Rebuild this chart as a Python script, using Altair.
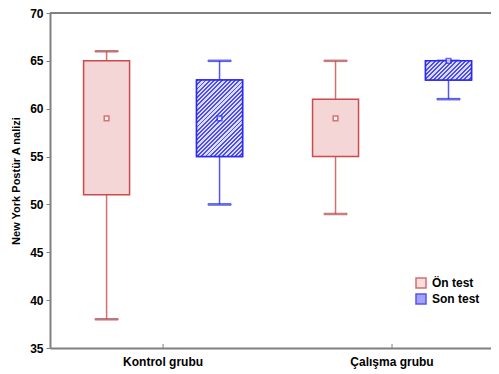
import altair as alt
import pandas as pd

groups = ["Kontrol grubu", "Kontrol grubu", "Çalışma grubu", "Çalışma grubu"]
tests = ["Ön test", "Son test", "Ön test", "Son test"]
mins = [38, 50, 49, 61]
q1s = [51, 55, 55, 63]
q3s = [65, 63, 61, 65]
maxs = [66, 65, 65, 65]
means = [59, 59, 59, 65]

group_order = ["Kontrol grubu", "Çalışma grubu"]
test_order = ["Ön test", "Son test"]
y_ticks = [35, 40, 45, 50, 55, 60, 65, 70]

df = pd.DataFrame({"Grup": groups, "Test": tests, "min": mins, "q1": q1s,
                   "q3": q3s, "max": maxs, "mean": means})

FONT = "Liberation Sans"
RED = "#cc4a4a"
BLUE = "#2a2af0"
PINK = "#f5d6d6"
LBLUE = "#8c8cf6"

W, H = 441, 335
Y0, Y1 = 35, 70
BOXW = 46
xscale = alt.Scale(domain=group_order, paddingInner=0.0655, paddingOuter=0.0133, align=1,
                   range=[0, 449])
x = alt.X("Grup:N", sort=group_order, scale=xscale,
          axis=alt.Axis(title=None, ticks=False, labelPadding=8, labelAngle=0,
                        labelFont=FONT, labelFontWeight="bold", labelFontSize=12,
                        labelColor="black", domainColor="#808080", domainWidth=2))
xo = alt.XOffset("Test:N", sort=test_order,
                 scale=alt.Scale(domain=test_order, paddingInner=0.593, paddingOuter=0.2435))
yax = alt.Axis(title="New York Postür A nalizi", values=y_ticks, grid=False,
               tickSize=4, tickColor="#808080", labelPadding=3,
               labelFont=FONT, labelFontWeight="bold", labelFontSize=12, labelColor="black",
               titleFont=FONT, titleFontWeight="bold", titleFontSize=11, titleColor="black",
               titlePadding=8, domainColor="#808080", domainWidth=2)
yscale = alt.Scale(domain=[Y0, Y1], nice=False, zero=False)

leg = alt.Legend(title=None, orient="none", legendX=365, legendY=264,
                 symbolType="square", symbolSize=100, symbolStrokeWidth=1.5,
                 rowPadding=0, labelOffset=5,
                 labelFont=FONT, labelFontWeight="bold", labelFontSize=12, labelColor="black")
stroke_enc = alt.Stroke("Test:N", scale=alt.Scale(domain=test_order, range=[RED, BLUE]), legend=leg)
fill_enc = alt.Fill("Test:N", scale=alt.Scale(domain=test_order, range=[PINK, LBLUE]), legend=leg)

base = alt.Chart(df)

whisk = base.mark_rule(strokeWidth=1.5, strokeOpacity=0.8).encode(
    x=x, xOffset=xo, y=alt.Y("min:Q", scale=yscale, axis=yax), y2="max:Q", stroke=stroke_enc)
cap_lo = base.mark_tick(size=23, thickness=1.5, opacity=0.8).encode(
    x=x, xOffset=xo, y=alt.Y("min:Q", scale=yscale), stroke=stroke_enc)
cap_hi = base.mark_tick(size=23, thickness=1.5, opacity=0.8).encode(
    x=x, xOffset=xo, y=alt.Y("max:Q", scale=yscale), stroke=stroke_enc)

box = base.mark_bar(width=BOXW, strokeWidth=1.5).encode(
    x=x, xOffset=xo, y=alt.Y("q1:Q", scale=yscale), y2="q3:Q",
    fill=fill_enc, stroke=stroke_enc)


def hatch_for(q1, q3, pitch=4.3):
    """45-degree '/' stripes for a box of BOXW x h pixels (gradient in bbox units)."""
    w = float(BOXW)
    h = (q3 - q1) * H / (Y1 - Y0)
    c = (w + h) / (w * w + h * h)
    n = max(1, round((w + h) / pitch))
    stops = []
    for k in range(n):
        a, b, e = k / n, (k + 0.45) / n, (k + 1) / n
        stops += [alt.GradientStop(offset=a, color="#4c4cf2"),
                  alt.GradientStop(offset=b, color="#4c4cf2"),
                  alt.GradientStop(offset=b, color="#dcdcff"),
                  alt.GradientStop(offset=e, color="#dcdcff")]
    return alt.LinearGradient(gradient="linear", x1=0, y1=0, x2=c * w, y2=c * h, stops=stops)


hatch_layers = []
for g, t, a, b in zip(groups, tests, q1s, q3s):
    if t != "Son test":
        continue
    hatch_layers.append(
        base.transform_filter((alt.datum.Test == t) & (alt.datum.Grup == g)).mark_bar(
            width=BOXW, strokeWidth=1.5, fill=hatch_for(a, b)).encode(
            x=x, xOffset=xo, y=alt.Y("q1:Q", scale=yscale), y2="q3:Q", stroke=stroke_enc))

mean_pt = base.mark_square(size=22, filled=True, fill="white", strokeWidth=1.5).encode(
    x=x, xOffset=xo, y=alt.Y("mean:Q", scale=yscale), stroke=stroke_enc)

xticks = alt.Chart(pd.DataFrame({"Grup": group_order})).mark_rule(
    color="#808080", strokeWidth=1).encode(
    x=alt.X("Grup:N", sort=group_order, scale=xscale, bandPosition=0.5),
    y=alt.value(H - 4), y2=alt.value(H))

top_line = alt.Chart(pd.DataFrame({"Grup": group_order[:1]})).mark_rule(
    color="#808080", strokeWidth=2).encode(
    x=alt.value(0), x2=alt.value(W + 2), y=alt.value(0))

chart = alt.layer(whisk, cap_lo, cap_hi, box, *hatch_layers, mean_pt, xticks, top_line).properties(
    width=W, height=H,
    autosize=alt.AutoSizeParams(type="none"),
    padding={"left": 42, "top": 5, "right": 0, "bottom": 22},
).configure_view(stroke=None).configure(background="white")

chart.save("out.html", embed_options={"renderer": "svg", "actions": False})
